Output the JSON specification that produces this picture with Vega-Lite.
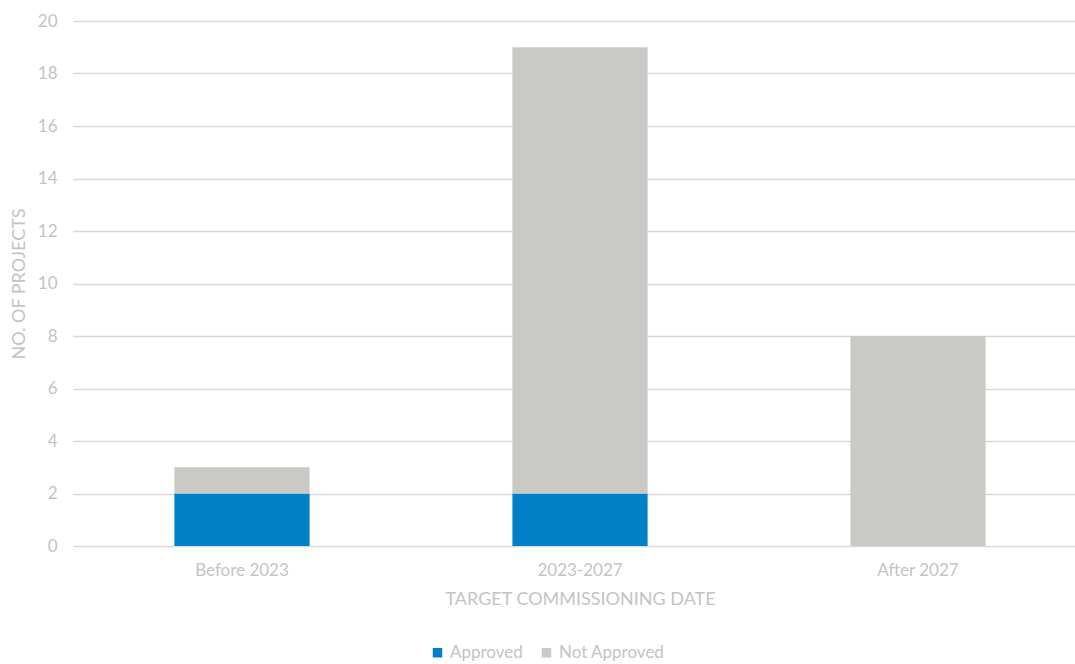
{
  "$schema": "https://vega.github.io/schema/vega-lite/v6.json",
  "autosize": "none",
  "width": 1014,
  "height": 525,
  "padding": {"left": 73, "top": 21, "right": 0, "bottom": 118},
  "background": "white",
  "config": {
    "font": "Lato",
    "view": {"stroke": null}
  },
  "data": {
    "values": [
      {"period": "Before 2023", "status": "Approved", "count": 2, "ord": 1},
      {"period": "Before 2023", "status": "Not Approved", "count": 1, "ord": 2},
      {"period": "2023-2027", "status": "Approved", "count": 2, "ord": 1},
      {"period": "2023-2027", "status": "Not Approved", "count": 17, "ord": 2},
      {"period": "After 2027", "status": "Approved", "count": 0, "ord": 1},
      {"period": "After 2027", "status": "Not Approved", "count": 8, "ord": 2}
    ]
  },
  "mark": {"type": "bar"},
  "encoding": {
    "x": {
      "field": "period",
      "type": "nominal",
      "sort": ["Before 2023", "2023-2027", "After 2027"],
      "scale": {"paddingInner": 0.6, "paddingOuter": 0.3},
      "axis": {
        "title": "TARGET COMMISSIONING DATE",
        "titleFontSize": 18,
        "titleFontWeight": "normal",
        "titleColor": "#c4c4c4",
        "titlePadding": 12,
        "labelAngle": 0,
        "labelFontSize": 17,
        "labelColor": "#c4c4c4",
        "labelPadding": 16,
        "ticks": false,
        "domain": false
      }
    },
    "y": {
      "field": "count",
      "type": "quantitative",
      "stack": "zero",
      "scale": {"domain": [0, 20]},
      "axis": {
        "title": "NO. OF PROJECTS",
        "titleFontSize": 18,
        "titleFontWeight": "normal",
        "titleColor": "#c4c4c4",
        "titlePadding": 9,
        "values": [0, 2, 4, 6, 8, 10, 12, 14, 16, 18, 20],
        "labelOverlap": false,
        "labelFontSize": 17,
        "labelColor": "#c4c4c4",
        "labelPadding": 16,
        "ticks": false,
        "domain": false,
        "grid": true,
        "gridColor": "#d9d9d9",
        "gridWidth": 1.5
      }
    },
    "color": {
      "field": "status",
      "type": "nominal",
      "scale": {"domain": ["Approved", "Not Approved"], "range": ["#0080c6", "#c9c9c6"]},
      "legend": {
        "title": null,
        "orient": "none",
        "legendX": 356,
        "legendY": 623,
        "direction": "horizontal",
        "symbolType": "square",
        "symbolSize": 90,
        "symbolStrokeWidth": 0,
        "labelFontSize": 17,
        "labelColor": "#c4c4c4",
        "labelOffset": 4,
        "columnPadding": 15
      }
    },
    "order": {"field": "ord", "type": "quantitative"}
  }
}
